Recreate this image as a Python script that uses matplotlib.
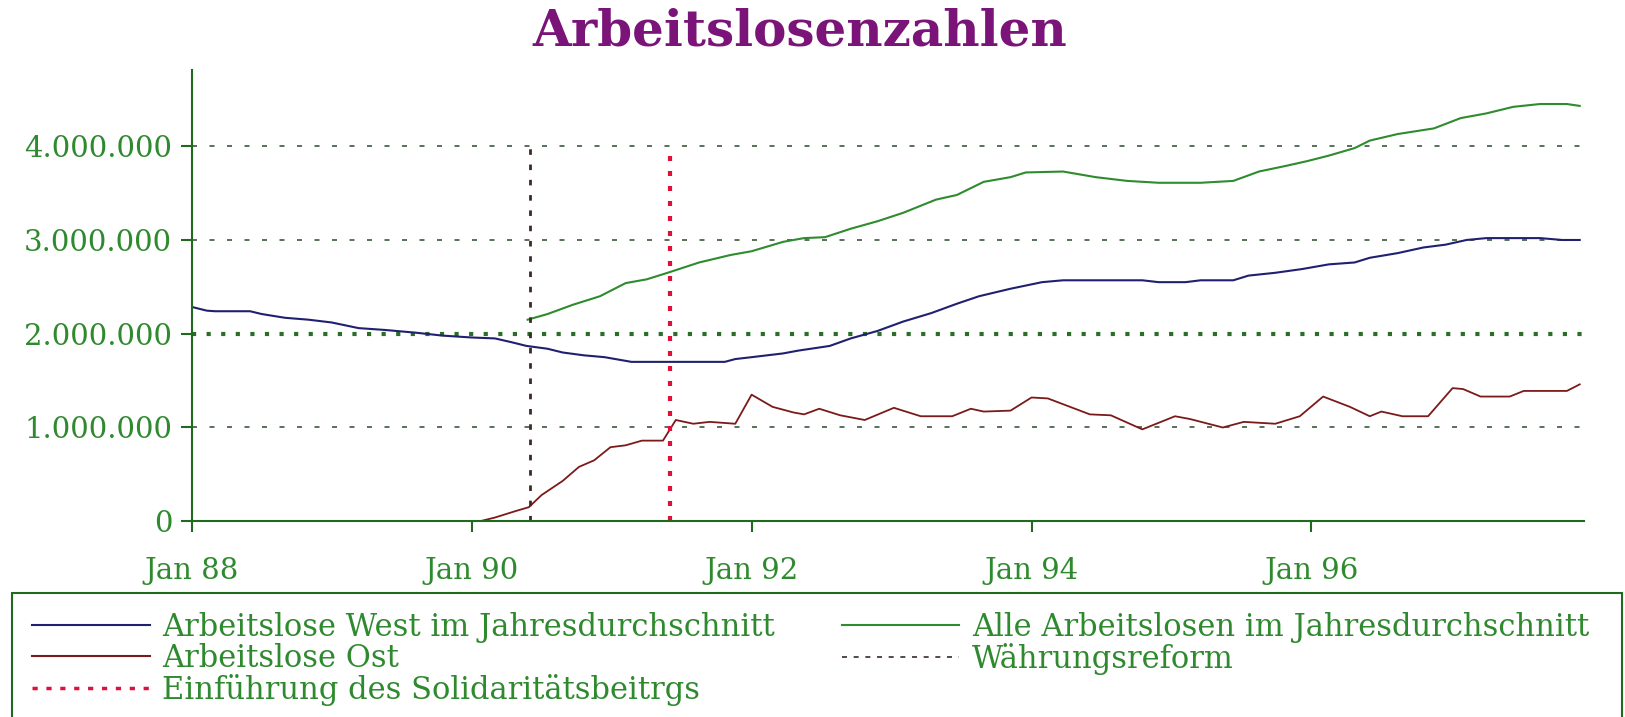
import numpy as np
import matplotlib.pyplot as plt
from matplotlib.lines import Line2D
from matplotlib.patches import Rectangle

# months counted from Jan 1988 (0 = Jan 88)
west_m = [0, 1.3, 2, 5, 6, 8, 10, 12, 14.3, 16.6, 19.3, 21.5, 24, 26, 27.4, 28.7, 30.5,
          31.8, 33.6, 35.4, 37.7, 41.7, 45.7, 46.6, 48, 50.7, 52, 54.7, 56.5, 58.8, 61,
          63.4, 65.6, 67.5, 70.2, 72.9, 74.7, 81.5, 82.9, 85.2, 86.5, 89.3, 90.6, 92.9,
          95.2, 97.5, 99.7, 101, 103.4, 105.6, 107.5, 109.3, 111, 115.6, 117.5, 119]
west_v = [2.286, 2.246, 2.24, 2.24, 2.21, 2.17, 2.15, 2.12, 2.06, 2.04, 2.01, 1.98, 1.96,
          1.95, 1.91, 1.87, 1.84, 1.80, 1.77, 1.75, 1.70, 1.70, 1.70, 1.73, 1.75, 1.79,
          1.82, 1.87, 1.95, 2.03, 2.13, 2.22, 2.32, 2.40, 2.48, 2.55, 2.57, 2.57, 2.55,
          2.55, 2.57, 2.57, 2.62, 2.65, 2.69, 2.74, 2.76, 2.81, 2.86, 2.92, 2.95, 3.00,
          3.02, 3.02, 3.00, 3.00]

alle_m = [28.8, 30.5, 32.7, 35, 37.2, 39, 40.8, 43.5, 46.2, 48, 50.7, 52.5, 54.3, 56.5,
          58.8, 61, 63.8, 65.6, 67.9, 70.2, 71.5, 74.7, 77.5, 80.2, 82.9, 86.5, 89.3,
          91.5, 93.8, 95.6, 97.5, 99.7, 101, 103.4, 106.5, 108.8, 111, 113.3, 115.6,
          117.9, 119]
alle_v = [2.15, 2.21, 2.31, 2.40, 2.54, 2.58, 2.65, 2.76, 2.84, 2.88, 2.98, 3.02, 3.03,
          3.12, 3.20, 3.29, 3.43, 3.48, 3.62, 3.67, 3.72, 3.73, 3.67, 3.63, 3.61, 3.61,
          3.63, 3.73, 3.79, 3.84, 3.90, 3.98, 4.06, 4.13, 4.19, 4.30, 4.35, 4.42, 4.45,
          4.45, 4.43]

ost_m = [24.7, 26, 27.8, 28.9, 30, 31.8, 33.2, 34.5, 35.9, 37.2, 38.6, 40.4, 41.5, 43,
         44.4, 46.6, 48, 49.8, 51.6, 52.5, 53.8, 55.6, 57.7, 60.2, 62.5, 65.2, 66.8, 67.9,
         70.2, 72, 73.4, 77, 78.8, 81.5, 84.3, 85.6, 88.4, 90.2, 92.9, 95, 97, 99.3, 101,
         102, 103.8, 106, 108.1, 109, 110.5, 113, 114.2, 117.9, 119]
ost_v = [0.0, 0.04, 0.11, 0.15, 0.28, 0.43, 0.58, 0.65, 0.79, 0.81, 0.86, 0.86, 1.08,
         1.04, 1.06, 1.04, 1.35, 1.22, 1.16, 1.14, 1.20, 1.13, 1.08, 1.21, 1.12, 1.12,
         1.20, 1.17, 1.18, 1.32, 1.31, 1.14, 1.13, 0.98, 1.12, 1.09, 1.00, 1.06, 1.04,
         1.12, 1.33, 1.22, 1.12, 1.17, 1.12, 1.12, 1.42, 1.41, 1.33, 1.33, 1.39, 1.39,
         1.46]

waehrungsreform = 29
solidaritaet = 41

xticks = [0, 24, 48, 72, 96]
xlabels = ["Jan 88", "Jan 90", "Jan 92", "Jan 94", "Jan 96"]
yticks = [0, 1e6, 2e6, 3e6, 4e6]
ylabels = ["0", "1.000.000", "2.000.000", "3.000.000", "4.000.000"]

green_txt = "#2f8a2f"
green_ax = "#1f6a1f"
c_west = "#202070"
c_alle = "#2e8b2e"
c_ost = "#7a1a1a"
c_wr = "#3a2a2a"
c_soli = "#e0103a"

fig = plt.figure(figsize=(16.25, 7.17), dpi=100)
ax = fig.add_axes([0.118, 0.273, 0.857, 0.629])

ax.plot(west_m, np.array(west_v) * 1e6, color=c_west, lw=1.5)
ax.plot(alle_m, np.array(alle_v) * 1e6, color=c_alle, lw=1.5)
ax.plot(ost_m, np.array(ost_v) * 1e6, color=c_ost, lw=1.3)
ax.vlines(waehrungsreform, 0, 4e6, colors=c_wr, linestyles=(0, (2, 3.5)), lw=2)
ax.vlines(solidaritaet, 0, 4e6, colors=c_soli, linestyles=(0, (1.2, 2.4)), lw=3)

for y in [1e6, 3e6, 4e6]:
    ax.axhline(y, color="#3a5a3a", lw=1.2, ls=(0, (3, 7.5)), zorder=0)
ax.axhline(2e6, color="#2a6e2a", lw=3, ls=(0, (1, 2.5)), zorder=0)

ax.set_xlim(0, 119.4)
ax.set_ylim(0, 4.81e6)
ax.set_xticks(xticks)
ax.set_xticklabels(xlabels)
ax.set_yticks(yticks)
ax.set_yticklabels(ylabels)
for s in ["top", "right"]:
    ax.spines[s].set_visible(False)
for s in ["left", "bottom"]:
    ax.spines[s].set_color(green_ax)
    ax.spines[s].set_linewidth(1.5)
ax.tick_params(colors=green_ax, length=8, width=1.5, labelcolor=green_txt,
               labelsize=21)
ax.tick_params(axis="x", pad=18)
ax.tick_params(axis="y", pad=6)
for t in ax.get_xticklabels() + ax.get_yticklabels():
    t.set_family("DejaVu Serif")
    t.set_fontweight("light")

fig.text(0.492, 0.955, "Arbeitslosenzahlen", color="#7a1478", fontsize=36,
         fontweight="bold", family="DejaVu Serif", ha="center", va="center")

# legend frame spans the figure width and runs off the bottom edge
fig.patches.append(Rectangle((12 / 1625, -0.02), 1610 / 1625, 0.193,
                             transform=fig.transFigure, fill=False,
                             edgecolor=green_ax, lw=1.5))

handles = [
    Line2D([], [], color=c_west, lw=1.5),
    Line2D([], [], color=c_ost, lw=1.5),
    Line2D([], [], color=c_soli, lw=2.5, ls=(0, (1.5, 2.5))),
    Line2D([], [], color=c_alle, lw=1.5),
    Line2D([], [], color=c_wr, lw=1.2, ls=(0, (3, 4))),
]
labels = [
    "Arbeitslose West im Jahresdurchschnitt",
    "Arbeitslose Ost",
    "Einführung des Solidaritätsbeitrgs",
    "Alle Arbeitslosen im Jahresdurchschnitt",
    "Währungsreform",
]
leg = fig.legend(handles, labels, loc="upper left", ncol=2,
                 bbox_to_anchor=(32 / 1625, 0.1464),
                 prop={"family": "DejaVu Serif", "size": 22},
                 handlelength=3.85, handletextpad=0.4, labelspacing=0.0,
                 borderpad=0, columnspacing=2.2, frameon=False,
                 borderaxespad=0)
for t in leg.get_texts():
    t.set_color(green_txt)

fig.savefig("out.png", dpi=100)
